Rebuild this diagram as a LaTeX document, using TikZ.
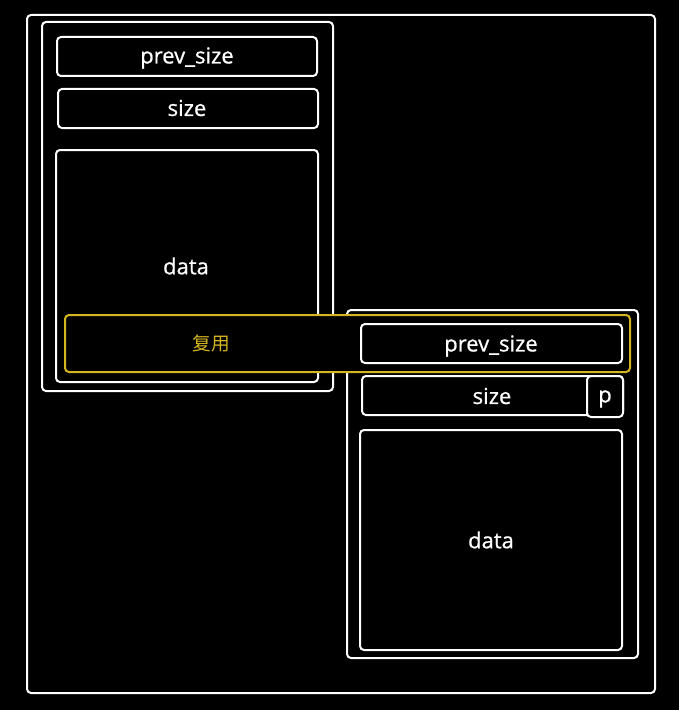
\documentclass[tikz,border=0pt]{standalone}
\usepackage{fontspec}
\setmainfont{Open Sans}
\newfontfamily\lblfont{Open Sans}[FakeBold=0.8]
\newfontfamily\cjk{Noto Sans CJK SC}
\definecolor{reuse}{RGB}{214,182,32}
\begin{document}
\begin{tikzpicture}[x=0.75pt,y=-0.75pt,
  box/.style={draw=white,line width=1.5pt,rounded corners=3pt,fill=black},
  lbl/.style={text=white,font=\lblfont\fontsize{16.5}{19}\selectfont},
  reusebox/.style={draw=reuse,line width=1.5pt,rounded corners=3pt,fill=black}]
\fill[black] (0,0) rectangle (679,710);
\useasboundingbox (0,0) rectangle (679,710);
% outer frame
\draw[box] (27,15) rectangle (655,693);
% left chunk
\draw[box] (42,22) rectangle (333,391);
\draw[box] (57,37) rectangle (317,76);
\node[lbl] (lprev) at (187,58) {prev\_size};
\draw[box] (58,89) rectangle (318,128);
\node[lbl] (lsize) at (187,108) {size};
\draw[box] (56,150) rectangle (318,382);
\node[lbl] (ldata) at (186,266) {data};
% right chunk container
\draw[box] (347,310) rectangle (638,658);
% reuse band
\draw[reusebox] (65,315) rectangle (630,372);
\node[text=reuse,font=\cjk\fontsize{14}{17}\selectfont] (reuse) at (211,343) {复用};
% right chunk fields
\draw[box] (361,324) rectangle (622,363);
\node[lbl] (rprev) at (491,346) {prev\_size};
\draw[box] (362,376) rectangle (623,415);
\node[lbl] (rsize) at (492,396) {size};
\draw[box] (587,376) rectangle (623,417);
\node[lbl] (pbit) at (605,399) {p};
\draw[box] (360,430) rectangle (622,650);
\node[lbl] (rdata) at (491,540) {data};
\end{tikzpicture}
\end{document}
